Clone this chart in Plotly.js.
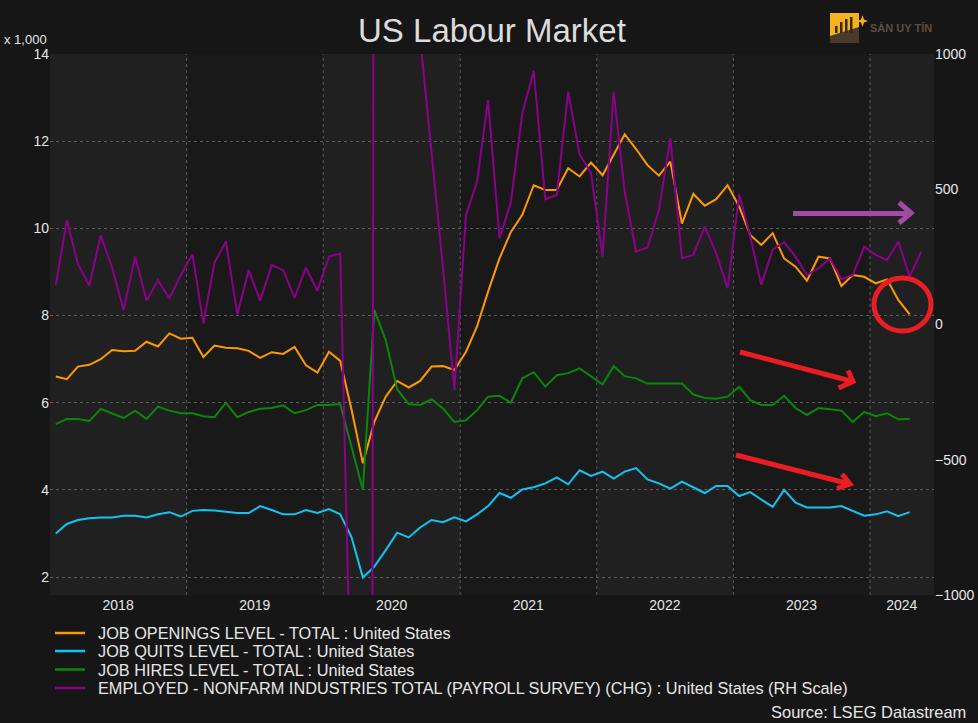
<!DOCTYPE html>
<html>
<head>
<meta charset="utf-8">
<script src="https://cdn.plot.ly/plotly-3.0.1.min.js"></script>
<style>
  html, body { margin: 0; padding: 0; background: #161616; }
  #chart { width: 978px; height: 723px; }
</style>
</head>
<body>
<div id="chart"></div>
<script>
// Months (Jan 2018 – May 2024), points placed mid-month
const months = [
  '2018-01','2018-02','2018-03','2018-04','2018-05','2018-06','2018-07','2018-08','2018-09','2018-10','2018-11','2018-12',
  '2019-01','2019-02','2019-03','2019-04','2019-05','2019-06','2019-07','2019-08','2019-09','2019-10','2019-11','2019-12',
  '2020-01','2020-02','2020-03','2020-04','2020-05','2020-06','2020-07','2020-08','2020-09','2020-10','2020-11','2020-12',
  '2021-01','2021-02','2021-03','2021-04','2021-05','2021-06','2021-07','2021-08','2021-09','2021-10','2021-11','2021-12',
  '2022-01','2022-02','2022-03','2022-04','2022-05','2022-06','2022-07','2022-08','2022-09','2022-10','2022-11','2022-12',
  '2023-01','2023-02','2023-03','2023-04','2023-05','2023-06','2023-07','2023-08','2023-09','2023-10','2023-11','2023-12',
  '2024-01','2024-02','2024-03','2024-04','2024-05'
];

// Left scale, x 1,000
const jobOpenings = [
  6.60, 6.54, 6.83, 6.87, 7.00, 7.21, 7.18, 7.19, 7.40, 7.29, 7.59, 7.47,
  7.49, 7.05, 7.31, 7.26, 7.25, 7.19, 7.03, 7.16, 7.12, 7.28, 6.86, 6.69,
  7.17, 6.96, 5.85, 4.61, 5.56, 6.14, 6.50, 6.35, 6.50, 6.83, 6.84, 6.75,
  7.17, 7.75, 8.55, 9.31, 9.92, 10.31, 10.99, 10.88, 10.88, 11.38, 11.19, 11.51,
  11.22, 11.68, 12.16, 11.82, 11.45, 11.21, 11.53, 10.11, 10.79, 10.52, 10.67, 10.99,
  10.50, 9.85, 9.62, 9.89, 9.31, 9.12, 8.80, 9.35, 9.31, 8.68, 8.93, 8.89,
  8.74, 8.83, 8.36, 8.03
];
const jobQuits = [
  3.00, 3.22, 3.31, 3.35, 3.37, 3.37, 3.41, 3.41, 3.37, 3.44, 3.49, 3.39,
  3.52, 3.54, 3.53, 3.50, 3.47, 3.47, 3.63, 3.54, 3.44, 3.44, 3.54, 3.47,
  3.56, 3.44, 2.92, 1.99, 2.24, 2.62, 3.02, 2.91, 3.14, 3.31, 3.26, 3.37,
  3.28, 3.44, 3.63, 3.93, 3.82, 4.01, 4.06, 4.15, 4.29, 4.13, 4.45, 4.32,
  4.42, 4.26, 4.42, 4.50, 4.24, 4.15, 4.03, 4.19, 4.06, 3.93, 4.09, 4.09,
  3.86, 3.95, 3.78, 3.61, 4.00, 3.71, 3.60, 3.60, 3.60, 3.63, 3.52, 3.41,
  3.44, 3.51, 3.40, 3.49
];
const jobHires = [
  5.51, 5.63, 5.63, 5.58, 5.86, 5.76, 5.65, 5.82, 5.63, 5.91, 5.82, 5.76,
  5.76, 5.69, 5.67, 6.00, 5.67, 5.79, 5.86, 5.88, 5.94, 5.76, 5.83, 5.95,
  5.95, 5.97, 4.98, 4.00, 8.13, 7.44, 6.31, 5.97, 5.95, 6.08, 5.87, 5.56,
  5.60, 5.83, 6.14, 6.16, 6.00, 6.56, 6.70, 6.37, 6.63, 6.68, 6.79, 6.61,
  6.42, 6.84, 6.61, 6.56, 6.44, 6.44, 6.44, 6.44, 6.19, 6.11, 6.09, 6.14,
  6.37, 6.06, 5.95, 5.95, 6.16, 5.88, 5.72, 5.88, 5.85, 5.82, 5.56, 5.79,
  5.69, 5.76, 5.62, 5.63
];
// Right scale (thousands, monthly change)
const payrollChange = [
  146, 386, 224, 143, 330, 210, 54, 251, 88, 164, 97, 183,
  259, 4, 229, 307, 38, 201, 88, 220, 201, 99, 210, 125,
  251, 262, -1500, -20500, 2800, 4800, 1700, 1500, 1060, 640, 210, -242,
  405, 528, 830, 319, 452, 781, 938, 463, 479, 861, 629, 561,
  251, 861, 491, 269, 285, 423, 688, 245, 257, 362, 263, 134,
  482, 325, 146, 278, 304, 251, 183, 208, 245, 167, 183, 288,
  257, 238, 306, 177, 269
];

const seriesNames = [
  'JOB OPENINGS LEVEL - TOTAL : United States',
  'JOB QUITS LEVEL - TOTAL : United States',
  'JOB HIRES LEVEL - TOTAL : United States',
  'EMPLOYED - NONFARM INDUSTRIES TOTAL (PAYROLL SURVEY) (CHG) : United States (RH Scale)'
];
const seriesColors = ['#ff9900', '#12c4f4', '#0a870a', '#8c008c'];
// Year labels sit in the middle of the visible part of each year
const yearTickDates = ['2018-07-02', '2019-07-02', '2020-07-02', '2021-07-02', '2022-07-02', '2023-07-02', '2024-03-26'];
const yearTickText = ['2018', '2019', '2020', '2021', '2022', '2023', '2024'];
const yearBoundaries = ['2019-01-01', '2020-01-01', '2021-01-01', '2022-01-01', '2023-01-01', '2024-01-01'];
const shadedYears = ['2018', '2020', '2022', '2024'];

const FONT = 'Liberation Sans, Arial, sans-serif';
const TXT = '#e6e6e6';

function line(idx, y, axis) {
  return {
    type: 'scatter', mode: 'lines', name: seriesNames[idx],
    x: months.slice(0, y.length), y: y,
    xperiod: 'M1', xperiodalignment: 'middle',
    yaxis: axis, line: { color: seriesColors[idx], width: 2 },
    hoverinfo: 'skip', showlegend: false
  };
}

const traces = [
  line(0, jobOpenings, 'y'),
  line(1, jobQuits, 'y'),
  line(2, jobHires, 'y'),
  line(3, payrollChange, 'y2')
];

// pixel -> paper helpers (plot area 50..934 x 54..595)
const PX = p => (p - 50) / 884;
const PY = p => (595 - p) / 541;
function pathOf(pts) {
  return pts.map((seg) => seg.map((p, i) => (i ? 'L' : 'M') + PX(p[0]) + ',' + PY(p[1])).join(' ')).join(' ');
}

const shapes = [];
shadedYears.forEach(yr => {
  shapes.push({
    type: 'rect', xref: 'x', yref: 'paper',
    x0: yr + '-01-01', x1: (Number(yr) + 1) + '-01-01', y0: 0, y1: 1,
    fillcolor: '#202020', line: { width: 0 }, layer: 'below'
  });
});
yearBoundaries.forEach(d => {
  shapes.push({
    type: 'line', xref: 'x', yref: 'paper', x0: d, x1: d, y0: 0, y1: 1,
    line: { color: '#5a5a5a', width: 1, dash: 'dot' }, layer: 'below'
  });
});
// purple arrow
shapes.push({
  type: 'path', xref: 'paper', yref: 'paper', layer: 'above',
  path: pathOf([[[793, 213.5], [909, 213.5]], [[899, 202.5], [911, 213], [899, 223]]]),
  line: { color: '#a24aa6', width: 5 }
});
// red arrows
shapes.push({
  type: 'path', xref: 'paper', yref: 'paper', layer: 'above',
  path: pathOf([[[740, 352], [851, 381]], [[848, 370.5], [853, 381.5], [838.5, 388]]]),
  line: { color: '#ea1c24', width: 5 }
});
shapes.push({
  type: 'path', xref: 'paper', yref: 'paper', layer: 'above',
  path: pathOf([[[736, 455], [848, 483.5]], [[842, 474], [850, 484], [837, 488.5]]]),
  line: { color: '#ea1c24', width: 5 }
});
// red circle
shapes.push({
  type: 'circle', xref: 'paper', yref: 'paper', layer: 'above',
  x0: PX(874), x1: PX(931), y0: PY(331), y1: PY(278),
  line: { color: '#ea1c24', width: 5 }
});
// logo (paper coords outside plot)
shapes.push({ type: 'rect', xref: 'paper', yref: 'paper', x0: PX(830), x1: PX(859), y0: PY(36), y1: PY(13),
  fillcolor: '#f3b21e', line: { width: 0 } });
shapes.push({ type: 'path', xref: 'paper', yref: 'paper',
  path: pathOf([[[830, 36], [859, 27], [859, 43], [830, 43], [830, 36]]]) + ' Z',
  fillcolor: '#4a3a2e', line: { width: 0 } });
[[835, 26], [840, 22], [845, 19], [850, 17]].forEach(b => {
  shapes.push({ type: 'rect', xref: 'paper', yref: 'paper', x0: PX(b[0]), x1: PX(b[0] + 2.5), y0: PY(33), y1: PY(b[1]),
    fillcolor: '#3a2a14', line: { width: 0 } });
});
shapes.push({ type: 'path', xref: 'paper', yref: 'paper',
  path: pathOf([[[862.5, 15], [864, 19.5], [868, 21], [864, 22.5], [862.5, 27], [861, 22.5], [857, 21], [861, 19.5], [862.5, 15]]]) + ' Z',
  fillcolor: '#f3b21e', line: { width: 0 } });

const annotations = [
  { xref: 'paper', yref: 'paper', x: PX(2), y: PY(40), xanchor: 'left', yanchor: 'middle',
    text: 'x 1,000', showarrow: false, font: { family: FONT, size: 13, color: TXT } },
  { xref: 'paper', yref: 'paper', x: PX(968), y: PY(712), xanchor: 'right', yanchor: 'middle',
    text: 'Source: LSEG Datastream', showarrow: false, font: { family: FONT, size: 16.5, color: TXT } },
  { xref: 'paper', yref: 'paper', x: PX(868), y: PY(28.5), xanchor: 'left', yanchor: 'middle',
    text: '<b>SÀN UY TÍN</b>', showarrow: false, font: { family: FONT, size: 11, color: '#5e4d40' } }
];

// Legend (drawn as sample lines + text so the rows keep the reference spacing)
const legendRows = [633, 651, 669.5, 688];
seriesNames.forEach((name, i) => {
  shapes.push({ type: 'line', xref: 'paper', yref: 'paper',
    x0: PX(55), x1: PX(85), y0: PY(legendRows[i]), y1: PY(legendRows[i]),
    line: { color: seriesColors[i], width: 2.5 } });
  annotations.push({ xref: 'paper', yref: 'paper', x: PX(96), y: PY(legendRows[i]),
    xanchor: 'left', yanchor: 'middle', text: name, showarrow: false,
    font: { family: FONT, size: 16.3, color: TXT } });
});

const layout = {
  width: 978, height: 723,
  paper_bgcolor: '#161616', plot_bgcolor: '#191919',
  margin: { l: 50, r: 44, t: 54, b: 128 },
  font: { family: FONT, color: TXT, size: 14 },
  title: { text: 'US Labour Market', font: { family: FONT, size: 33, color: '#dcdcdc' },
    xref: 'container', yref: 'container', x: 0.503, y: 1 - 30 / 723, xanchor: 'center', yanchor: 'middle' },
  showlegend: false,
  xaxis: {
    type: 'date', range: ['2018-01-01', '2024-06-20'],
    tickmode: 'array', tickvals: yearTickDates, ticktext: yearTickText,
    showgrid: false, ticks: '', showline: false, zeroline: false,
    tickfont: { family: FONT, size: 14, color: TXT }
  },
  yaxis: {
    range: [1.59, 14], tick0: 2, dtick: 2,
    showgrid: true, gridcolor: '#5a5a5a', griddash: 'dot', gridwidth: 1,
    ticks: '', showline: false, zeroline: false,
    tickfont: { family: FONT, size: 14, color: TXT }
  },
  yaxis2: {
    overlaying: 'y', side: 'right', range: [-1000, 1000], tick0: 0, dtick: 500,
    showgrid: false, ticks: '', showline: false, zeroline: false,
    tickfont: { family: FONT, size: 14, color: TXT }
  },
  shapes: shapes,
  annotations: annotations
};

Plotly.newPlot('chart', traces, layout, { displayModeBar: false, staticPlot: true });
</script>
</body>
</html>
